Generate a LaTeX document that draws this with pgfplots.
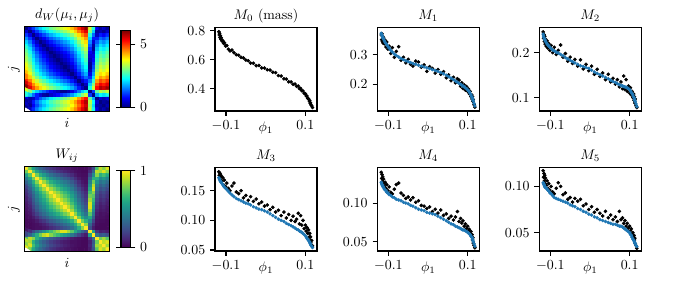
\documentclass[border=0pt]{standalone}
\usepackage{pgfplots}
\usepackage{pgfplotstable}
\pgfplotsset{compat=1.18}
\definecolor{tabblue}{HTML}{1F77B4}
\pgfplotsset{
  colorbar shift/.style={xshift=8.3pt},
  mpl/.style={scale only axis, axis line style={line width=0.8pt},
    every tick/.style={black,line width=0.8pt}, major tick length=3.5pt,
    tick align=outside,
    title style={at={(axis description cs:0.5,1)}, anchor=base}},
  sc/.style={mpl, tick pos=left, anchor=south west, width=73.4pt, height=60pt,
    scaled ticks=false,
    xmin=-0.1277, xmax=0.1292, xtick={-0.1,0.1}, xticklabels={$-0.1$,$0.1$},
    xlabel={$\phi_1$}, xlabel style={at={(axis description cs:0.5,0)}, anchor=center, yshift=-12.2pt}},
  hm/.style={mpl, anchor=south west, width=61pt, height=61pt,
    xmin=-0.5,xmax=23.5,ymin=-0.5,ymax=23.5, xtick=\empty, ytick=\empty,
    axis on top, xlabel={$i$}, ylabel={$j$},
    xlabel style={at={(axis description cs:0.5,0)}, anchor=north, yshift=-1.8pt},
    ylabel style={at={(axis description cs:0,0.5)}, anchor=south},
    colorbar, colorbar style={at={(parent axis.east)}, anchor=west, scale only axis,
      width=6.8pt, height=55.2pt, tick align=outside, major tick length=3.5pt,
      every tick/.style={black,line width=0.8pt}, axis line style={line width=0.8pt}}},
  blk/.style={only marks, mark=*, mark size=1.1pt, black},
  blu/.style={only marks, mark=*, mark size=1.05pt, tabblue},
}
\pgfplotstableread{
x m0 m1 p1 m2 p2 m3 p3 m4 p4 m5 p5
-0.118 0.792 0.368 0.374 0.246 0.241 0.182 0.172 0.140 0.127 0.117 0.104
-0.117 0.770 0.352 0.370 0.232 0.237 0.176 0.170 0.132 0.126 0.110 0.103
-0.116 0.781 0.372 0.366 0.240 0.234 0.180 0.169 0.137 0.124 0.114 0.102
-0.115 0.752 0.345 0.362 0.225 0.231 0.172 0.167 0.128 0.123 0.106 0.101
-0.114 0.764 0.363 0.359 0.236 0.229 0.178 0.166 0.134 0.122 0.112 0.100
-0.113 0.741 0.340 0.356 0.219 0.227 0.168 0.165 0.125 0.121 0.103 0.099
-0.112 0.750 0.358 0.353 0.230 0.225 0.175 0.164 0.131 0.120 0.109 0.099
-0.110 0.728 0.338 0.348 0.214 0.222 0.166 0.162 0.122 0.118 0.101 0.098
-0.108 0.731 0.350 0.343 0.226 0.219 0.172 0.160 0.127 0.117 0.106 0.097
-0.106 0.712 0.327 0.339 0.210 0.217 0.160 0.158 0.119 0.116 0.098 0.096
-0.104 0.716 0.344 0.335 0.220 0.215 0.168 0.156 0.124 0.114 0.103 0.095
-0.101 0.694 0.320 0.329 0.205 0.212 0.157 0.154 0.116 0.113 0.096 0.093
-0.098 0.697 0.330 0.323 0.216 0.209 0.163 0.152 0.121 0.111 0.100 0.092
-0.094 0.672 0.305 0.316 0.200 0.206 0.154 0.149 0.114 0.110 0.094 0.090
-0.090 0.660 0.325 0.310 0.212 0.204 0.150 0.146 0.112 0.108 0.092 0.088
-0.085 0.666 0.292 0.303 0.196 0.201 0.158 0.143 0.118 0.107 0.098 0.087
-0.080 0.648 0.312 0.298 0.205 0.199 0.163 0.140 0.124 0.105 0.104 0.086
-0.074 0.634 0.328 0.293 0.217 0.196 0.148 0.137 0.126 0.104 0.100 0.085
-0.068 0.630 0.282 0.288 0.190 0.193 0.145 0.135 0.113 0.103 0.091 0.084
-0.062 0.616 0.292 0.284 0.198 0.189 0.150 0.133 0.110 0.101 0.093 0.083
-0.056 0.612 0.273 0.280 0.181 0.186 0.138 0.131 0.106 0.100 0.086 0.082
-0.050 0.597 0.285 0.277 0.190 0.183 0.142 0.129 0.108 0.099 0.088 0.080
-0.044 0.592 0.268 0.274 0.176 0.180 0.134 0.128 0.104 0.097 0.083 0.079
-0.038 0.576 0.262 0.271 0.185 0.177 0.140 0.126 0.107 0.096 0.087 0.078
-0.031 0.575 0.279 0.268 0.170 0.174 0.132 0.123 0.101 0.094 0.084 0.076
-0.024 0.558 0.276 0.265 0.184 0.171 0.136 0.121 0.103 0.092 0.086 0.075
-0.017 0.560 0.258 0.262 0.164 0.169 0.128 0.119 0.097 0.091 0.079 0.073
-0.010 0.543 0.266 0.259 0.174 0.167 0.131 0.118 0.096 0.090 0.081 0.072
-0.003 0.542 0.244 0.256 0.160 0.165 0.124 0.116 0.093 0.088 0.075 0.070
0.004 0.530 0.260 0.253 0.170 0.161 0.126 0.114 0.095 0.087 0.078 0.069
0.011 0.528 0.254 0.250 0.152 0.157 0.118 0.111 0.089 0.086 0.072 0.067
0.018 0.513 0.238 0.247 0.163 0.154 0.122 0.108 0.092 0.085 0.075 0.066
0.025 0.510 0.250 0.244 0.147 0.151 0.114 0.105 0.087 0.083 0.071 0.064
0.032 0.490 0.234 0.240 0.155 0.148 0.117 0.102 0.091 0.081 0.068 0.063
0.039 0.487 0.243 0.236 0.140 0.145 0.108 0.100 0.084 0.079 0.073 0.062
0.046 0.468 0.222 0.231 0.152 0.142 0.114 0.098 0.086 0.077 0.066 0.061
0.052 0.466 0.232 0.226 0.135 0.139 0.104 0.095 0.080 0.075 0.069 0.060
0.058 0.447 0.212 0.221 0.143 0.136 0.110 0.093 0.083 0.073 0.064 0.059
0.064 0.446 0.224 0.216 0.130 0.134 0.100 0.091 0.078 0.072 0.067 0.059
0.069 0.430 0.205 0.211 0.140 0.131 0.107 0.089 0.082 0.070 0.062 0.058
0.074 0.432 0.219 0.207 0.124 0.129 0.098 0.087 0.089 0.069 0.073 0.057
0.078 0.416 0.214 0.203 0.135 0.127 0.102 0.085 0.076 0.068 0.064 0.057
0.082 0.418 0.193 0.200 0.120 0.126 0.112 0.084 0.080 0.067 0.066 0.056
0.085 0.400 0.205 0.197 0.148 0.125 0.094 0.082 0.074 0.066 0.060 0.055
0.088 0.402 0.186 0.194 0.118 0.124 0.108 0.081 0.077 0.065 0.063 0.054
0.091 0.386 0.198 0.191 0.140 0.123 0.092 0.080 0.070 0.065 0.057 0.053
0.094 0.384 0.180 0.188 0.114 0.122 0.100 0.078 0.073 0.064 0.060 0.052
0.097 0.368 0.192 0.185 0.126 0.120 0.086 0.076 0.067 0.063 0.055 0.051
0.100 0.365 0.176 0.181 0.110 0.118 0.092 0.074 0.070 0.062 0.057 0.050
0.102 0.350 0.184 0.178 0.122 0.115 0.082 0.072 0.064 0.061 0.052 0.048
0.104 0.349 0.168 0.174 0.106 0.112 0.088 0.070 0.066 0.060 0.054 0.047
0.106 0.333 0.176 0.169 0.114 0.109 0.078 0.068 0.060 0.059 0.048 0.045
0.108 0.330 0.158 0.164 0.100 0.106 0.084 0.066 0.063 0.057 0.050 0.043
0.110 0.314 0.164 0.158 0.108 0.102 0.072 0.064 0.057 0.056 0.045 0.042
0.111 0.318 0.150 0.155 0.094 0.100 0.078 0.063 0.059 0.055 0.047 0.041
0.112 0.300 0.158 0.151 0.102 0.097 0.066 0.061 0.052 0.053 0.042 0.040
0.113 0.302 0.142 0.147 0.088 0.094 0.072 0.060 0.055 0.052 0.044 0.039
0.114 0.288 0.148 0.143 0.097 0.091 0.062 0.058 0.048 0.050 0.038 0.038
0.116 0.282 0.130 0.135 0.082 0.086 0.066 0.056 0.045 0.047 0.036 0.036
0.118 0.270 0.122 0.126 0.078 0.080 0.057 0.054 0.042 0.044 0.033 0.035
}\scat
\pgfplotstableread[header=false,row sep=\\]{
0.0\\0.5\\1.1\\1.6\\2.0\\2.3\\2.6\\2.9\\3.1\\3.3\\3.5\\3.7\\3.9\\4.2\\4.6\\5.1\\5.6\\6.0\\3.6\\2.5\\0.7\\0.2\\0.4\\0.1\\
0.5\\0.0\\0.6\\1.1\\1.5\\1.8\\2.1\\2.4\\2.6\\2.8\\3.0\\3.2\\3.4\\3.7\\4.1\\4.6\\5.1\\5.5\\3.1\\2.0\\0.2\\0.3\\0.1\\0.4\\
1.1\\0.6\\0.0\\0.5\\0.9\\1.2\\1.5\\1.8\\2.0\\2.2\\2.4\\2.6\\2.8\\3.1\\3.5\\4.0\\4.5\\4.9\\2.5\\1.4\\0.4\\0.9\\0.7\\1.0\\
1.6\\1.1\\0.5\\0.0\\0.4\\0.7\\1.0\\1.3\\1.5\\1.7\\1.9\\2.1\\2.3\\2.6\\3.0\\3.5\\4.0\\4.4\\2.0\\0.9\\0.9\\1.4\\1.2\\1.5\\
2.0\\1.5\\0.9\\0.4\\0.0\\0.3\\0.6\\0.9\\1.1\\1.3\\1.5\\1.7\\1.9\\2.2\\2.6\\3.1\\3.6\\4.0\\1.6\\0.5\\1.3\\1.8\\1.6\\1.9\\
2.3\\1.8\\1.2\\0.7\\0.3\\0.0\\0.3\\0.6\\0.8\\1.0\\1.2\\1.4\\1.6\\1.9\\2.3\\2.8\\3.3\\3.7\\1.3\\0.2\\1.6\\2.1\\1.9\\2.2\\
2.6\\2.1\\1.5\\1.0\\0.6\\0.3\\0.0\\0.3\\0.5\\0.7\\0.9\\1.1\\1.3\\1.6\\2.0\\2.5\\3.0\\3.4\\1.0\\0.1\\1.9\\2.4\\2.2\\2.5\\
2.9\\2.4\\1.8\\1.3\\0.9\\0.6\\0.3\\0.0\\0.2\\0.4\\0.6\\0.8\\1.0\\1.3\\1.7\\2.2\\2.7\\3.1\\0.7\\0.4\\2.2\\2.7\\2.5\\2.8\\
3.1\\2.6\\2.0\\1.5\\1.1\\0.8\\0.5\\0.2\\0.0\\0.2\\0.4\\0.6\\0.8\\1.1\\1.5\\2.0\\2.5\\2.9\\0.5\\0.6\\2.4\\2.9\\2.7\\3.0\\
3.3\\2.8\\2.2\\1.7\\1.3\\1.0\\0.7\\0.4\\0.2\\0.0\\0.2\\0.4\\0.6\\0.9\\1.3\\1.8\\2.3\\2.7\\0.3\\0.8\\2.6\\3.1\\2.9\\3.2\\
3.5\\3.0\\2.4\\1.9\\1.5\\1.2\\0.9\\0.6\\0.4\\0.2\\0.0\\0.2\\0.4\\0.7\\1.1\\1.6\\2.1\\2.5\\0.1\\1.0\\2.8\\3.3\\3.1\\3.4\\
3.7\\3.2\\2.6\\2.1\\1.7\\1.4\\1.1\\0.8\\0.6\\0.4\\0.2\\0.0\\0.2\\0.5\\0.9\\1.4\\1.9\\2.3\\0.1\\1.2\\3.0\\3.5\\3.3\\3.6\\
3.9\\3.4\\2.8\\2.3\\1.9\\1.6\\1.3\\1.0\\0.8\\0.6\\0.4\\0.2\\0.0\\0.3\\0.7\\1.2\\1.7\\2.1\\0.3\\1.4\\3.2\\3.7\\3.5\\3.8\\
4.2\\3.7\\3.1\\2.6\\2.2\\1.9\\1.6\\1.3\\1.1\\0.9\\0.7\\0.5\\0.3\\0.0\\0.4\\0.9\\1.4\\1.8\\0.6\\1.7\\3.5\\4.0\\3.8\\4.1\\
4.6\\4.1\\3.5\\3.0\\2.6\\2.3\\2.0\\1.7\\1.5\\1.3\\1.1\\0.9\\0.7\\0.4\\0.0\\0.5\\1.0\\1.4\\1.0\\2.1\\3.9\\4.4\\4.2\\4.5\\
5.1\\4.6\\4.0\\3.5\\3.1\\2.8\\2.5\\2.2\\2.0\\1.8\\1.6\\1.4\\1.2\\0.9\\0.5\\0.0\\0.5\\0.9\\1.5\\2.6\\4.4\\4.9\\4.7\\5.0\\
5.6\\5.1\\4.5\\4.0\\3.6\\3.3\\3.0\\2.7\\2.5\\2.3\\2.1\\1.9\\1.7\\1.4\\1.0\\0.5\\0.0\\0.4\\2.0\\3.1\\4.9\\5.4\\5.2\\5.5\\
6.0\\5.5\\4.9\\4.4\\4.0\\3.7\\3.4\\3.1\\2.9\\2.7\\2.5\\2.3\\2.1\\1.8\\1.4\\0.9\\0.4\\0.0\\2.4\\3.5\\5.3\\5.8\\5.6\\5.9\\
3.6\\3.1\\2.5\\2.0\\1.6\\1.3\\1.0\\0.7\\0.5\\0.3\\0.1\\0.1\\0.3\\0.6\\1.0\\1.5\\2.0\\2.4\\0.0\\1.1\\2.9\\3.4\\3.2\\3.5\\
2.5\\2.0\\1.4\\0.9\\0.5\\0.2\\0.1\\0.4\\0.6\\0.8\\1.0\\1.2\\1.4\\1.7\\2.1\\2.6\\3.1\\3.5\\1.1\\0.0\\1.8\\2.3\\2.1\\2.4\\
0.7\\0.2\\0.4\\0.9\\1.3\\1.6\\1.9\\2.2\\2.4\\2.6\\2.8\\3.0\\3.2\\3.5\\3.9\\4.4\\4.9\\5.3\\2.9\\1.8\\0.0\\0.5\\0.3\\0.6\\
0.2\\0.3\\0.9\\1.4\\1.8\\2.1\\2.4\\2.7\\2.9\\3.1\\3.3\\3.5\\3.7\\4.0\\4.4\\4.9\\5.4\\5.8\\3.4\\2.3\\0.5\\0.0\\0.2\\0.1\\
0.4\\0.1\\0.7\\1.2\\1.6\\1.9\\2.2\\2.5\\2.7\\2.9\\3.1\\3.3\\3.5\\3.8\\4.2\\4.7\\5.2\\5.6\\3.2\\2.1\\0.3\\0.2\\0.0\\0.3\\
0.1\\0.4\\1.0\\1.5\\1.9\\2.2\\2.5\\2.8\\3.0\\3.2\\3.4\\3.6\\3.8\\4.1\\4.5\\5.0\\5.5\\5.9\\3.5\\2.4\\0.6\\0.1\\0.3\\0.0\\
}\dW
\pgfplotstableread[header=false,row sep=\\]{
1\\0.78\\0.57\\0.42\\0.32\\0.26\\0.20\\0.15\\0.12\\0.09\\0.07\\0.06\\0.05\\0.04\\0.03\\0.02\\0.02\\0.02\\0.06\\0.22\\0.70\\0.90\\0.82\\0.95\\
0.78\\1\\0.74\\0.57\\0.45\\0.37\\0.30\\0.24\\0.20\\0.16\\0.13\\0.10\\0.08\\0.06\\0.04\\0.03\\0.02\\0.02\\0.12\\0.32\\0.90\\0.86\\0.95\\0.82\\
0.57\\0.74\\1\\0.78\\0.63\\0.54\\0.45\\0.37\\0.32\\0.28\\0.24\\0.20\\0.16\\0.12\\0.07\\0.04\\0.03\\0.03\\0.22\\0.48\\0.82\\0.63\\0.70\\0.60\\
0.42\\0.57\\0.78\\1\\0.82\\0.70\\0.60\\0.51\\0.45\\0.40\\0.35\\0.30\\0.26\\0.20\\0.13\\0.07\\0.04\\0.04\\0.32\\0.63\\0.63\\0.48\\0.54\\0.45\\
0.32\\0.45\\0.63\\0.82\\1\\0.86\\0.74\\0.63\\0.57\\0.51\\0.45\\0.40\\0.35\\0.28\\0.20\\0.12\\0.06\\0.04\\0.42\\0.78\\0.51\\0.37\\0.42\\0.35\\
0.26\\0.37\\0.54\\0.70\\0.86\\1\\0.86\\0.74\\0.67\\0.60\\0.54\\0.48\\0.42\\0.35\\0.26\\0.16\\0.09\\0.06\\0.51\\0.90\\0.42\\0.30\\0.35\\0.28\\
0.20\\0.30\\0.45\\0.60\\0.74\\0.86\\1\\0.86\\0.78\\0.70\\0.63\\0.57\\0.51\\0.42\\0.32\\0.22\\0.13\\0.08\\0.60\\0.95\\0.35\\0.24\\0.28\\0.22\\
0.15\\0.24\\0.37\\0.51\\0.63\\0.74\\0.86\\1\\0.90\\0.82\\0.74\\0.67\\0.60\\0.51\\0.40\\0.28\\0.18\\0.12\\0.70\\0.82\\0.28\\0.18\\0.22\\0.16\\
0.12\\0.20\\0.32\\0.45\\0.57\\0.67\\0.78\\0.90\\1\\0.90\\0.82\\0.74\\0.67\\0.57\\0.45\\0.32\\0.22\\0.15\\0.78\\0.74\\0.24\\0.15\\0.18\\0.13\\
0.09\\0.16\\0.28\\0.40\\0.51\\0.60\\0.70\\0.82\\0.90\\1\\0.90\\0.82\\0.74\\0.63\\0.51\\0.37\\0.26\\0.18\\0.86\\0.67\\0.20\\0.12\\0.15\\0.10\\
0.07\\0.13\\0.24\\0.35\\0.45\\0.54\\0.63\\0.74\\0.82\\0.90\\1\\0.90\\0.82\\0.70\\0.57\\0.42\\0.30\\0.22\\0.95\\0.60\\0.16\\0.09\\0.12\\0.08\\
0.06\\0.10\\0.20\\0.30\\0.40\\0.48\\0.57\\0.67\\0.74\\0.82\\0.90\\1\\0.90\\0.78\\0.63\\0.48\\0.35\\0.26\\0.95\\0.54\\0.13\\0.07\\0.09\\0.06\\
0.05\\0.08\\0.16\\0.26\\0.35\\0.42\\0.51\\0.60\\0.67\\0.74\\0.82\\0.90\\1\\0.86\\0.70\\0.54\\0.40\\0.30\\0.86\\0.48\\0.10\\0.06\\0.07\\0.05\\
0.04\\0.06\\0.12\\0.20\\0.28\\0.35\\0.42\\0.51\\0.57\\0.63\\0.70\\0.78\\0.86\\1\\0.82\\0.63\\0.48\\0.37\\0.74\\0.40\\0.07\\0.04\\0.05\\0.04\\
0.03\\0.04\\0.07\\0.13\\0.20\\0.26\\0.32\\0.40\\0.45\\0.51\\0.57\\0.63\\0.70\\0.82\\1\\0.78\\0.60\\0.48\\0.60\\0.30\\0.05\\0.04\\0.04\\0.03\\
0.02\\0.03\\0.04\\0.07\\0.12\\0.16\\0.22\\0.28\\0.32\\0.37\\0.42\\0.48\\0.54\\0.63\\0.78\\1\\0.78\\0.63\\0.45\\0.20\\0.04\\0.03\\0.03\\0.02\\
0.02\\0.02\\0.03\\0.04\\0.06\\0.09\\0.13\\0.18\\0.22\\0.26\\0.30\\0.35\\0.40\\0.48\\0.60\\0.78\\1\\0.82\\0.32\\0.12\\0.03\\0.02\\0.02\\0.02\\
0.02\\0.02\\0.03\\0.04\\0.04\\0.06\\0.08\\0.12\\0.15\\0.18\\0.22\\0.26\\0.30\\0.37\\0.48\\0.63\\0.82\\1\\0.24\\0.07\\0.02\\0.02\\0.02\\0.02\\
0.06\\0.12\\0.22\\0.32\\0.42\\0.51\\0.60\\0.70\\0.78\\0.86\\0.95\\0.95\\0.86\\0.74\\0.60\\0.45\\0.32\\0.24\\1\\0.57\\0.15\\0.08\\0.10\\0.07\\
0.22\\0.32\\0.48\\0.63\\0.78\\0.90\\0.95\\0.82\\0.74\\0.67\\0.60\\0.54\\0.48\\0.40\\0.30\\0.20\\0.12\\0.07\\0.57\\1\\0.37\\0.26\\0.30\\0.24\\
0.70\\0.90\\0.82\\0.63\\0.51\\0.42\\0.35\\0.28\\0.24\\0.20\\0.16\\0.13\\0.10\\0.07\\0.05\\0.04\\0.03\\0.02\\0.15\\0.37\\1\\0.78\\0.86\\0.74\\
0.90\\0.86\\0.63\\0.48\\0.37\\0.30\\0.24\\0.18\\0.15\\0.12\\0.09\\0.07\\0.06\\0.04\\0.04\\0.03\\0.02\\0.02\\0.08\\0.26\\0.78\\1\\0.90\\0.95\\
0.82\\0.95\\0.70\\0.54\\0.42\\0.35\\0.28\\0.22\\0.18\\0.15\\0.12\\0.09\\0.07\\0.05\\0.04\\0.03\\0.02\\0.02\\0.10\\0.30\\0.86\\0.90\\1\\0.86\\
0.95\\0.82\\0.60\\0.45\\0.35\\0.28\\0.22\\0.16\\0.13\\0.10\\0.08\\0.06\\0.05\\0.04\\0.03\\0.02\\0.02\\0.02\\0.07\\0.24\\0.74\\0.95\\0.86\\1\\
}\Wm
\begin{document}
\begin{tikzpicture}
\useasboundingbox (0,0) rectangle (486pt,201.6pt);
% heatmap d_W
\begin{axis}[hm, at={(17.8pt,121.5pt)}, title={$d_W(\mu_i,\mu_j)$},
  colormap/jet, point meta min=0, point meta max=6.1,
  colorbar style={ytick={0,5}}]
\addplot[matrix plot*, mesh/cols=24, point meta=explicit]
  table[x index=0, y index=0, x expr={mod(\coordindex,24)}, y expr={23-floor(\coordindex/24)}, meta index=0] {\dW};
\end{axis}
% heatmap W
\begin{axis}[hm, at={(17.8pt,20.7pt)}, title={$W_{ij}$},
  colormap/viridis, point meta min=0, point meta max=1,
  colorbar style={ytick={0,1}}]
\addplot[matrix plot*, mesh/cols=24, point meta=explicit]
  table[x index=0, y index=0, x expr={mod(\coordindex,24)}, y expr={23-floor(\coordindex/24)}, meta index=0] {\Wm};
\end{axis}
% M0
\begin{axis}[sc, at={(154.8pt,121.7pt)}, title={$M_0$ (mass)},
  ymin=0.246, ymax=0.8205, ytick={0.4,0.6,0.8}, yticklabels={$0.4$,$0.6$,$0.8$}]
\addplot[blk] table[x=x,y=m0] {\scat};
\end{axis}
% M1
\begin{axis}[sc, at={(271.7pt,121.7pt)}, title={$M_1$},
  ymin=0.109, ymax=0.393, ytick={0.2,0.3}, yticklabels={$0.2$,$0.3$}]
\addplot[blk] table[x=x,y=m1] {\scat};
\addplot[blu] table[x=x,y=p1] {\scat};
\end{axis}
% M2
\begin{axis}[sc, at={(388.3pt,121.7pt)}, title={$M_2$},
  ymin=0.0704, ymax=0.2555, ytick={0.1,0.2}, yticklabels={$0.1$,$0.2$}]
\addplot[blk] table[x=x,y=m2] {\scat};
\addplot[blu] table[x=x,y=p2] {\scat};
\end{axis}
% M3
\begin{axis}[sc, at={(154.8pt,20.9pt)}, title={$M_3$},
  ymin=0.0483, ymax=0.189, ytick={0.05,0.10,0.15}, yticklabels={$0.05$,$0.10$,$0.15$}]
\addplot[blk] table[x=x,y=m3] {\scat};
\addplot[blu] table[x=x,y=p3] {\scat};
\end{axis}
% M4
\begin{axis}[sc, at={(271.7pt,20.9pt)}, title={$M_4$},
  ymin=0.0378, ymax=0.146, ytick={0.05,0.10}, yticklabels={$0.05$,$0.10$}]
\addplot[blk] table[x=x,y=m4] {\scat};
\addplot[blu] table[x=x,y=p4] {\scat};
\end{axis}
% M5
\begin{axis}[sc, at={(388.3pt,20.9pt)}, title={$M_5$},
  ymin=0.0301, ymax=0.1203, ytick={0.05,0.10}, yticklabels={$0.05$,$0.10$}]
\addplot[blk] table[x=x,y=m5] {\scat};
\addplot[blu] table[x=x,y=p5] {\scat};
\end{axis}
\end{tikzpicture}
\end{document}
